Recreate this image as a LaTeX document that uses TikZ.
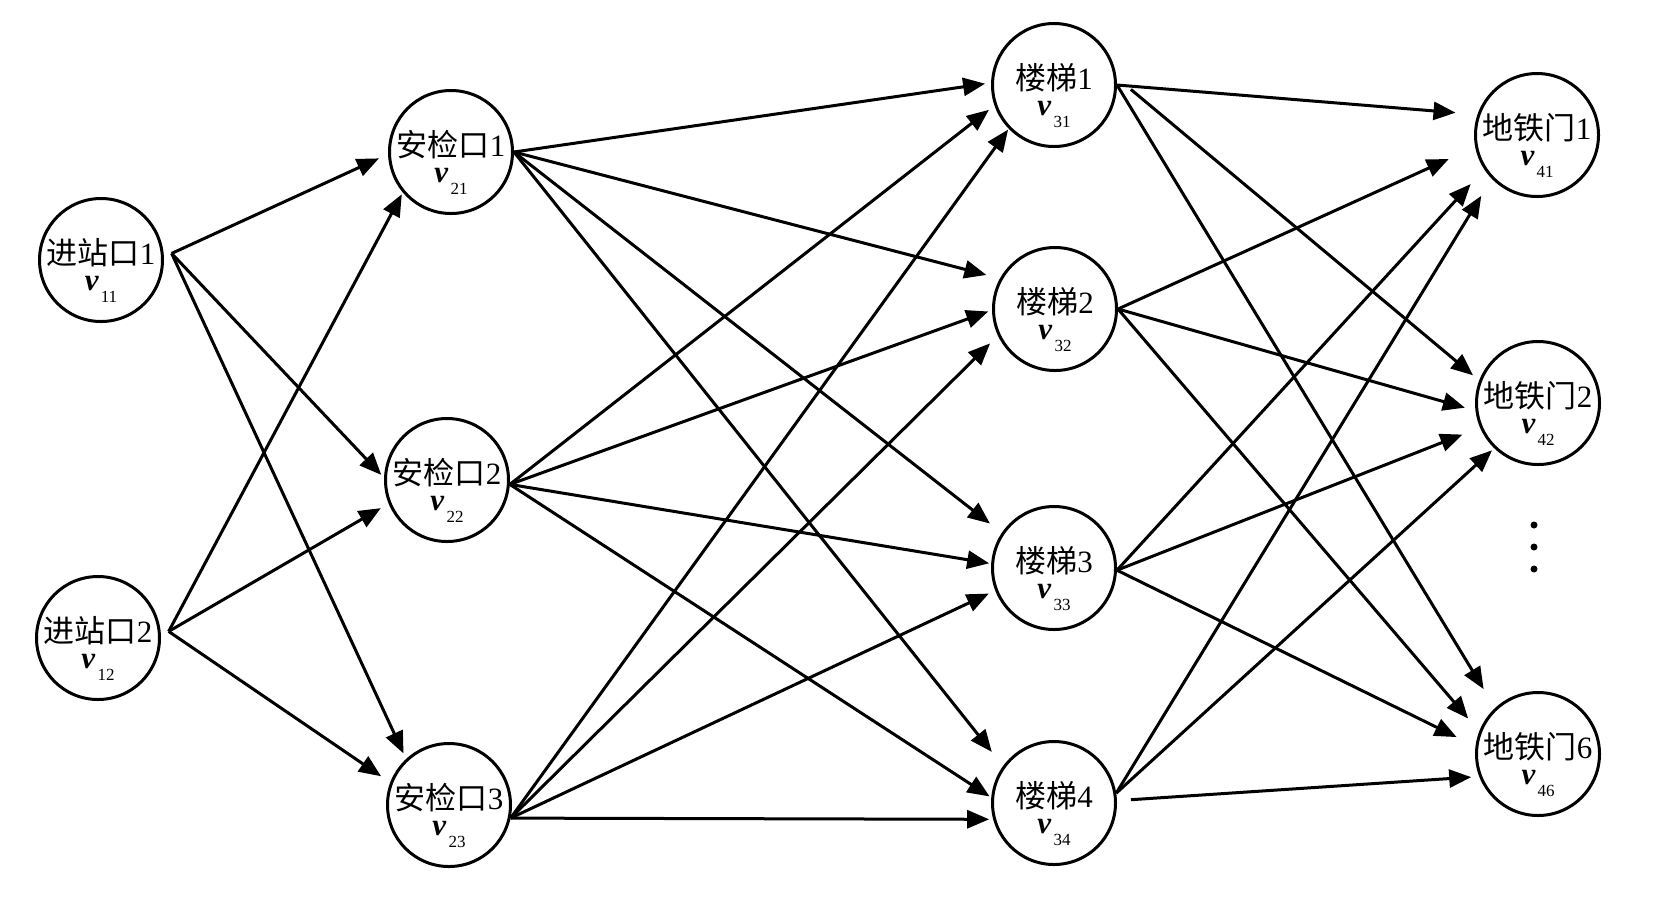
\documentclass[tikz,border=0pt]{standalone}
\usepackage{fontspec}
\setmainfont{Liberation Serif}
\newfontfamily\cjk{Noto Sans CJK SC}
\usetikzlibrary{arrows.meta}

\newcommand{\stagelabel}[3]{%
  \makebox[0pt]{\raisebox{-2pt}[0pt][0pt]{{\cjk #1}#2}}%
  \makebox[0pt]{\raisebox{-15pt}[0pt][0pt]{\textbf{\textit{v}}\kern1pt\raisebox{-6pt}{\fontsize{8.5}{8.5}\selectfont #3}}}}

\begin{document}
\begin{tikzpicture}[x=0.5pt, y=-0.5pt,
	stage/.style={circle, draw, line width=1.5pt, minimum size=61.5pt, inner sep=0pt,
		font=\fontsize{15.5}{15.5}\selectfont},
	flow/.style={line width=1.5pt, -{Triangle[length=11pt, width=9pt]}, shorten >=3pt}]
	\useasboundingbox (0,0) rectangle (1654,896);
%	entrances, security checks, stairs, platform doors
	\node[stage] (v11) at (101,260) {\stagelabel{进站口}{1}{11}};
	\node[stage] (v12) at (98,638) {\stagelabel{进站口}{2}{12}};
	\node[stage] (v21) at (451,152) {\stagelabel{安检口}{1}{21}};
	\node[stage] (v22) at (447,480) {\stagelabel{安检口}{2}{22}};
	\node[stage] (v23) at (449,805) {\stagelabel{安检口}{3}{23}};
	\node[stage] (v31) at (1054,85) {\stagelabel{楼梯}{1}{31}};
	\node[stage] (v32) at (1055,309) {\stagelabel{楼梯}{2}{32}};
	\node[stage] (v33) at (1054,568) {\stagelabel{楼梯}{3}{33}};
	\node[stage] (v34) at (1054,803) {\stagelabel{楼梯}{4}{34}};
	\node[stage] (v41) at (1537,135) {\stagelabel{地铁门}{1}{41}};
	\node[stage] (v42) at (1538,403) {\stagelabel{地铁门}{2}{42}};
	\node[stage] (v46) at (1538,754) {\stagelabel{地铁门}{6}{46}};
	\fill (1534,525) circle (3.5);
	\fill (1534,547) circle (3.5);
	\fill (1534,569) circle (3.5);

	\draw[flow, shorten >=5pt] ([xshift=4pt]v11.6) -- (v21.182);
	\draw[flow, shorten >=2pt] ([xshift=4pt]v11.6) -- (v22.178);
	\draw[flow, shorten >=3pt] ([xshift=4pt]v11.6) -- (v23.133);
	\draw[flow, shorten >=1pt] ([xshift=4pt]v12.6) -- (v21.220);
	\draw[flow, shorten >=4.5pt] ([xshift=4pt]v12.6) -- (v22.202);
	\draw[flow, shorten >=5.5pt] ([xshift=4pt]v12.6) -- (v23.159);

	\draw[flow] (v21.east) -- (v31.178);
	\draw[flow, shorten >=7pt] (v21.east) -- (v32.151);
	\draw[flow, shorten >=7.5pt] (v21.east) -- (v33.146);
	\draw[flow, shorten >=9pt] (v21.east) -- (v34.144);
	\draw[flow, shorten >=3.5pt] (v22.-4) -- (v31.199);
	\draw[flow, shorten >=2pt] (v22.-4) -- (v32.181);
	\draw[flow, shorten >=1pt] (v22.-4) -- (v33.176);
	\draw[flow, shorten >=1pt] (v22.-4) -- (v34.175);
	\draw[flow, shorten >=0.5pt] (v23.-12) -- (v31.224);
	\draw[flow, shorten >=5.5pt] (v23.-12) -- (v32.205);
	\draw[flow, shorten >=3.5pt] (v23.-12) -- (v33.201);
	\draw[flow, shorten >=2pt] (v23.-12) -- (v34.195);

	\draw[flow, shorten >=11pt] (v31.east) -- (v41.161);
	\draw[flow, shorten >=4pt] ([xshift=7pt]v31.-4) -- (v42.159);
	\draw[flow, shorten >=11pt] (v31.east) -- (v46.133);
	\draw[flow, shorten >=14.5pt] (v32.east) -- (v41.191);
	\draw[flow, shorten >=5.5pt] (v32.east) -- (v42.187);
	\draw[flow, shorten >=8.5pt] (v32.east) -- (v46.159);
	\draw[flow, shorten >=10pt] (v33.-2) -- (v41.213);
	\draw[flow, shorten >=9.5pt] (v33.-2) -- (v42.203);
	\draw[flow, shorten >=10.5pt] (v33.-2) -- (v46.173);
	\draw[flow, shorten >=10pt] (v34.9) -- (v41.224);
	\draw[flow, shorten >=1.5pt] (v34.9) -- (v42.226);
	\draw[flow, shorten >=4pt] ([xshift=7pt]v34.3) -- (v46.201);

\end{tikzpicture}
\end{document}
